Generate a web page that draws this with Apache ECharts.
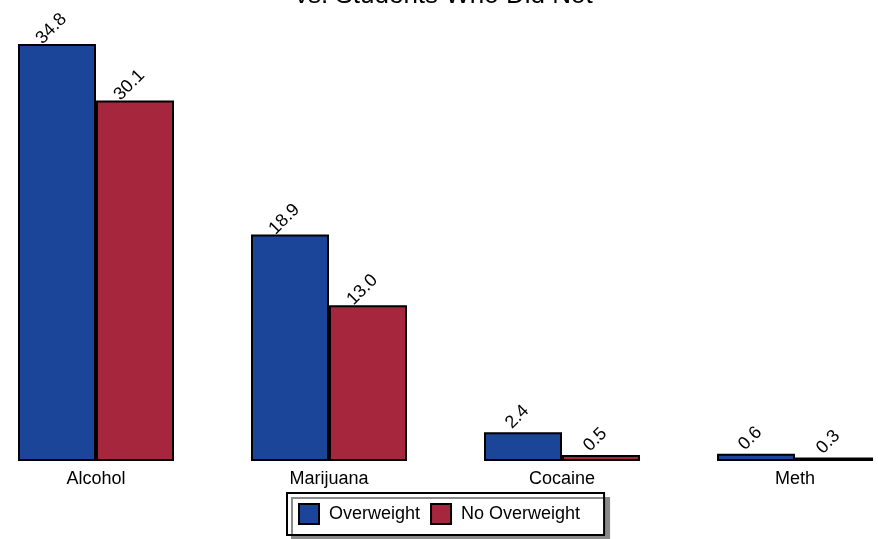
<!DOCTYPE html>
<html>
<head>
<meta charset="utf-8">
<script src="https://cdn.jsdelivr.net/npm/echarts@6/dist/echarts.min.js"></script>
<style>html,body{margin:0;padding:0;background:#fff;}#c{width:878px;height:539px;}</style>
</head>
<body>
<div id="c"></div>
<script>
const categories = ['Alcohol', 'Marijuana', 'Cocaine', 'Meth'];
const overweight = [34.8, 18.9, 2.4, 0.6];
const noOverweight = [30.1, 13.0, 0.5, 0.3];
const seriesNames = ['Overweight', 'No Overweight'];
const titleText = 'vs. Students Who Did Not';

const FONT = '"Liberation Sans", Arial, Helvetica, sans-serif';
const chart = echarts.init(document.getElementById('c'), null, {renderer: 'canvas'});

const labelCfg = {
  show: true,
  position: 'top',
  distance: 21,
  rotate: 45,
  align: 'center',
  verticalAlign: 'middle',
  offset: [-8, 0],
  fontSize: 18,
  fontFamily: FONT,
  color: '#000',
  formatter: p => p.value.toFixed(1)
};

chart.setOption({
  animation: false,
  backgroundColor: '#fff',
  title: {
    text: titleText,
    left: 295,
    top: -17,
    padding: 0,
    textStyle: {fontSize: 26, fontWeight: 'normal', fontFamily: FONT, color: '#000'}
  },
  legend: {
    left: 287,
    top: 493,
    padding: [10, 24, 10, 11],
    itemGap: 10,
    itemWidth: 20,
    itemHeight: 20,
    icon: 'rect',
    backgroundColor: '#fff',
    borderColor: '#000',
    borderWidth: 2,
    shadowColor: '#8a8a8a',
    shadowOffsetX: 5,
    shadowOffsetY: 5,
    shadowBlur: 0,
    textStyle: {fontSize: 18, fontFamily: FONT, color: '#000', padding: [0, 0, 0, 5]},
    data: seriesNames
  },
  grid: {left: -20.5, right: -33.5, top: 0, bottom: 78, outerBoundsMode: 'none', containLabel: false},
  xAxis: {
    type: 'category',
    data: categories,
    axisLine: {show: false},
    axisTick: {show: false},
    axisLabel: {fontSize: 18, fontFamily: FONT, color: '#000', margin: 9}
  },
  yAxis: {
    type: 'value',
    min: 0,
    max: 38.48,
    show: false,
    splitLine: {show: false}
  },
  series: [
    {
      name: seriesNames[0],
      type: 'bar',
      data: overweight,
      barWidth: 78,
      barGap: '0%',
      itemStyle: {color: '#1A4598', borderColor: '#000', borderWidth: 2},
      label: labelCfg
    },
    {
      name: seriesNames[1],
      type: 'bar',
      data: noOverweight,
      barWidth: 78,
      barGap: '0%',
      itemStyle: {color: '#A6263D', borderColor: '#000', borderWidth: 2},
      label: labelCfg
    }
  ]
});
</script>
</body>
</html>
